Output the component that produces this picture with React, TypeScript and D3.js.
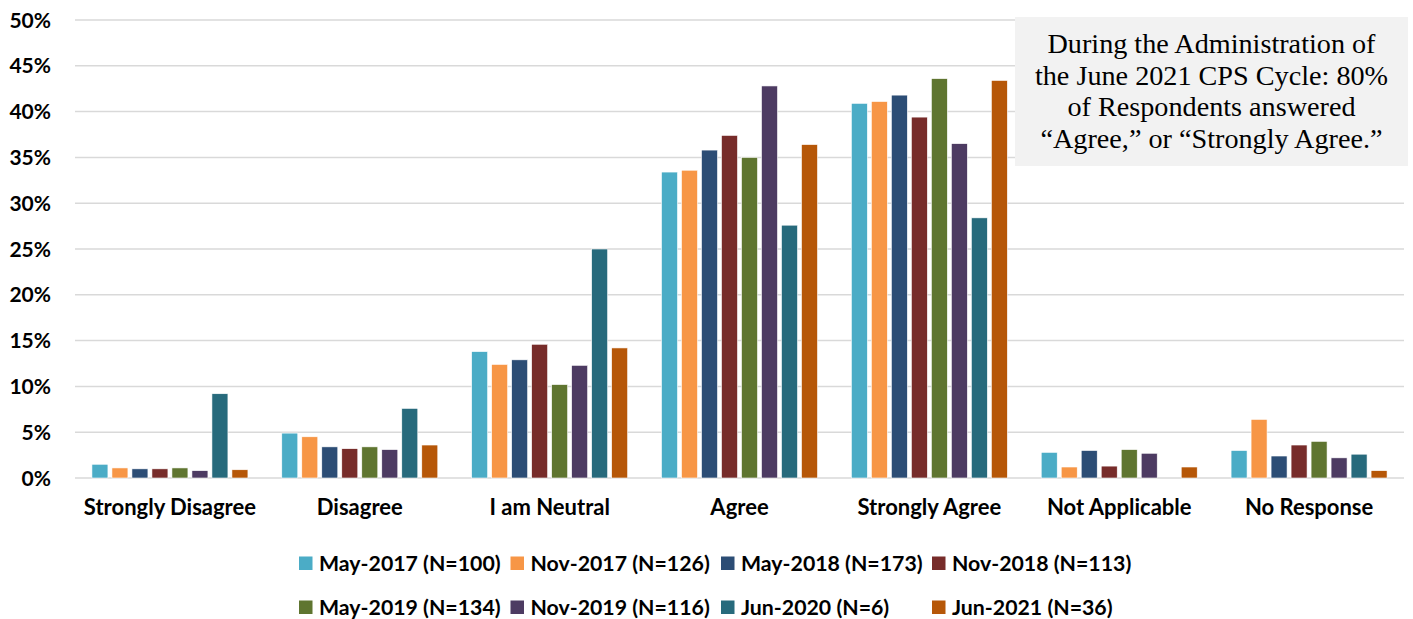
import React from "react";
import * as d3 from "d3";

const categories = ["Strongly Disagree", "Disagree", "I am Neutral", "Agree", "Strongly Agree", "Not Applicable", "No Response"];
const seriesNames = ["May-2017 (N=100)", "Nov-2017 (N=126)", "May-2018 (N=173)", "Nov-2018 (N=113)", "May-2019 (N=134)", "Nov-2019 (N=116)", "Jun-2020 (N=6)", "Jun-2021 (N=36)"];
const seriesColors = ["#4bacc6", "#f79646", "#2c4d75", "#772c2a", "#5f7530", "#4d3b62", "#276a7c", "#b65708"];

const may2017 = [1.5, 4.9, 13.8, 33.4, 40.9, 2.8, 3.0];
const nov2017 = [1.1, 4.5, 12.4, 33.6, 41.1, 1.2, 6.4];
const may2018 = [1.0, 3.4, 12.9, 35.8, 41.8, 3.0, 2.4];
const nov2018 = [1.0, 3.2, 14.6, 37.4, 39.4, 1.3, 3.6];
const may2019 = [1.1, 3.4, 10.2, 35.0, 43.6, 3.1, 4.0];
const nov2019 = [0.8, 3.1, 12.3, 42.8, 36.5, 2.7, 2.2];
const jun2020 = [9.2, 7.6, 25.0, 27.6, 28.4, 0, 2.6];
const jun2021 = [0.9, 3.6, 14.2, 36.4, 43.4, 1.2, 0.8];

const seriesValues = [may2017, nov2017, may2018, nov2018, may2019, nov2019, jun2020, jun2021];
const yTicks = [0, 5, 10, 15, 20, 25, 30, 35, 40, 45, 50];

const noteLines = [
  "During the Administration of",
  "the June 2021 CPS Cycle: 80%",
  "of Respondents answered",
  "\u201CAgree,\u201D or \u201CStrongly Agree.\u201D",
];

const W = 1413;
const H = 619;
const plotLeft = 75;
const plotRight = 1404;
const plotTop = 20;
const plotBottom = 478;
const labelFont = "Lato, 'Open Sans', sans-serif";

export default function App() {
  const x0 = d3.scaleBand<string>().domain(categories).range([plotLeft, plotRight]).padding(0);
  const x1 = d3.scaleBand<string>().domain(seriesNames).range([0, 156]).paddingInner(0.2).paddingOuter(0);
  const y = d3.scaleLinear().domain([0, 50]).range([plotBottom, plotTop]);

  const legendCols = [299, 510.5, 721, 932];
  const legendRows = [563, 607];

  return (
    <svg width={W} height={H} style={{ position: "absolute", left: 0, top: 0, background: "#fff" }}>
      <rect x={0} y={0} width={W} height={H} fill="#ffffff" />
      {yTicks.map((t) => (
        <g key={t}>
          <line x1={plotLeft} x2={plotRight} y1={y(t)} y2={y(t)} stroke="#d9d9d9" strokeWidth={1.5} />
          <text x={51} y={y(t) + 7.5} textAnchor="end" fontFamily={labelFont} fontWeight={700} fontSize={21} fill="#000">
            {t + "%"}
          </text>
        </g>
      ))}
      {categories.map((c, ci) => {
        const gx = (x0(c) as number) + x0.bandwidth() / 2 - 78;
        return (
          <g key={c}>
            {seriesNames.map((s, si) => {
              const v = seriesValues[si][ci];
              if (!v) return null;
              return (
                <rect
                  key={s}
                  x={gx + (x1(s) as number)}
                  y={y(v)}
                  width={x1.bandwidth()}
                  height={y(0) - y(v)}
                  fill={seriesColors[si]}
                  stroke="#ffffff"
                  strokeWidth={0.6}
                />
              );
            })}
            <text
              x={(x0(c) as number) + x0.bandwidth() / 2}
              y={515}
              textAnchor="middle"
              fontFamily={labelFont}
              fontWeight={700}
              fontSize={22}
              fill="#000"
            >
              {c}
            </text>
          </g>
        );
      })}
      <rect x={1015} y={17} width={393} height={149} fill="#f2f2f2" />
      {noteLines.map((l, i) => (
        <text
          key={i}
          x={1211.5}
          y={53 + i * 31.7}
          textAnchor="middle"
          fontFamily="'Liberation Serif', 'Times New Roman', serif"
          fontSize={28.2}
          fill="#000"
        >
          {l}
        </text>
      ))}
      {seriesNames.map((s, i) => {
        const col = i % 4;
        const row = Math.floor(i / 4);
        const lx = legendCols[col];
        const ly = legendRows[row];
        return (
          <g key={s}>
            <rect x={lx} y={ly - 6.5} width={13.5} height={13.5} fill={seriesColors[i]} />
            <text x={lx + 20} y={ly + 7.5} fontFamily={labelFont} fontWeight={700} fontSize={21.3} fill="#000">
              {s}
            </text>
          </g>
        );
      })}
    </svg>
  );
}
